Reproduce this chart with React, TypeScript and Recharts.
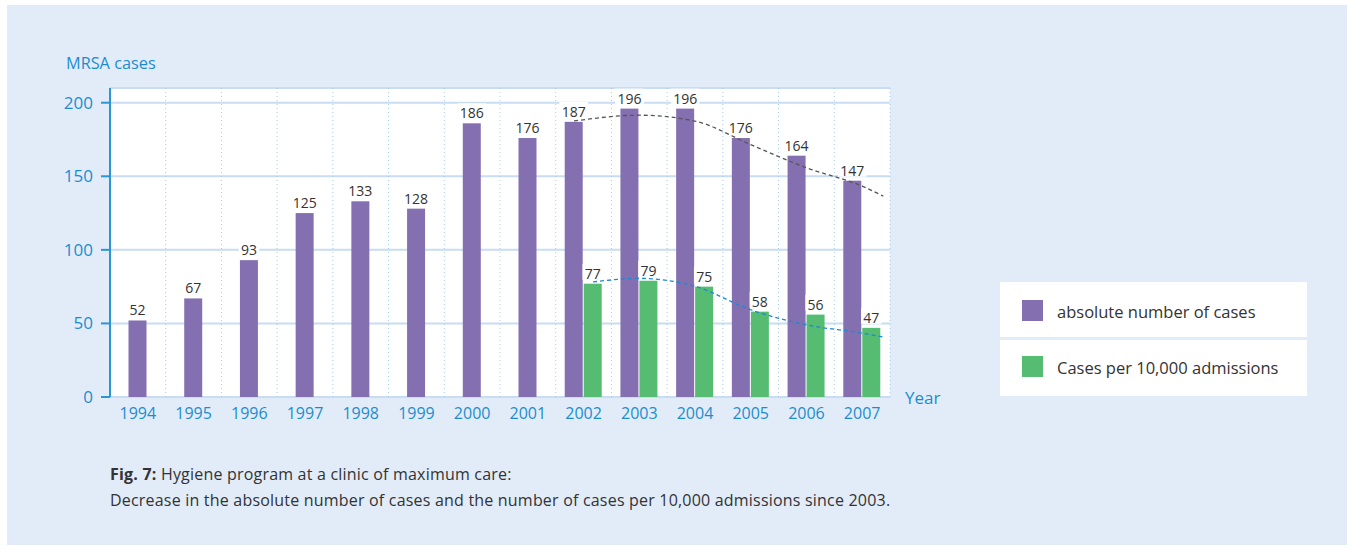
import React from "react";
import {
  ComposedChart,
  Bar,
  Line,
  XAxis,
  YAxis,
  CartesianGrid,
} from "recharts";

const years = [1994, 1995, 1996, 1997, 1998, 1999, 2000, 2001, 2002, 2003, 2004, 2005, 2006, 2007];
const absoluteCases = [52, 67, 93, 125, 133, 128, 186, 176, 187, 196, 196, 176, 164, 147];
const casesPer10k: (number | null)[] = [null, null, null, null, null, null, null, null, 77, 79, 75, 58, 56, 47];
const yTicks = [0, 50, 100, 150, 200];

// trend curves
const absTrendX = [2001.83, 2003, 2004, 2005, 2006, 2007, 2007.38];
const absTrendY = [187.6, 191.5, 187.5, 171.5, 155.8, 143.3, 136.5];
const rateTrendX = [2002.17, 2003, 2004, 2005, 2006, 2007, 2007.38];
const rateTrendY = [78.2, 80.6, 75.2, 59.3, 49, 43.4, 40.7];

const data = years.map((y, i) => ({ year: y, abs: absoluteCases[i], rate: casesPer10k[i] }));
const absTrend = absTrendX.map((x, i) => ({ year: x, v: absTrendY[i] }));
const rateTrend = rateTrendX.map((x, i) => ({ year: x, v: rateTrendY[i] }));
const boundaries = [years[0] - 0.5, ...years.map((y) => y + 0.5)];

const PURPLE = "#8470B1";
const GREEN = "#55BC72";
const BLUE = "#1C8CD0";
const AXIS = "#2B95D6";
const GRID = "#C8DDF1";
const TEXT = "#333333";
const FONT = "'Open Sans', sans-serif";
const BAR_GAP = 1;

const ValueLabel = ({ cx, top, value }: { cx: number; top: number; value: number }) => {
  const s = String(value);
  const w = s.length * 8.2 + 4;
  return (
    <g>
      <rect x={cx - w / 2} y={top - 20} width={w} height={16} fill="#ffffff" />
      <text x={cx} y={top - 5} textAnchor="middle" fontSize={14} fill={TEXT} fontFamily={FONT}>
        {s}
      </text>
    </g>
  );
};

const PurpleShape = (props: any) => {
  const { x, y, width, height, payload } = props;
  if (payload == null || payload.abs == null) return null;
  const dx = payload.rate == null ? (width + BAR_GAP) / 2 : 0;
  return (
    <g>
      <rect x={x + dx} y={y} width={width} height={height} fill={PURPLE} />
      <ValueLabel cx={x + dx + width / 2} top={y} value={payload.abs} />
    </g>
  );
};

const GreenShape = (props: any) => {
  const { x, y, width, height, payload } = props;
  if (payload == null || payload.rate == null) return null;
  return (
    <g>
      <rect x={x} y={y} width={width} height={height} fill={GREEN} />
      <ValueLabel cx={x + width / 2} top={y} value={payload.rate} />
    </g>
  );
};

export default function App() {
  return (
    <div
      style={{
        position: "absolute",
        left: 0,
        top: 0,
        width: 1354,
        height: 549,
        background: "#ffffff",
        fontFamily: FONT,
      }}
    >
      <div
        style={{
          position: "absolute",
          left: 7,
          top: 5,
          width: 1340,
          height: 540,
          background: "#E1ECF8",
        }}
      />
      <div style={{ position: "absolute", left: 66, top: 52, fontSize: 16.3, color: BLUE }}>MRSA cases</div>
      <div style={{ position: "absolute", left: 0, top: 0 }}>
        <ComposedChart
          width={960}
          height={440}
          data={data}
          margin={{ top: 88, right: 70, left: 50, bottom: 13 }}
          barGap={BAR_GAP}
        >
          <CartesianGrid vertical={false} fill="#ffffff" stroke={GRID} strokeWidth={2} />
          <XAxis
            xAxisId="num"
            dataKey="year"
            type="number"
            domain={[boundaries[0], boundaries[boundaries.length - 1]]}
            ticks={boundaries}
            tickFormatter={() => ""}
            height={0}
            allowDataOverflow
            axisLine={{ stroke: AXIS, strokeWidth: 2 }}
            tickLine={{ stroke: AXIS, strokeWidth: 2 }}
            tickSize={6}
            interval={0}
          />
          <XAxis
            xAxisId="cat"
            dataKey="year"
            type="category"
            height={30}
            axisLine={false}
            tickLine={false}
            tickSize={0}
            tickMargin={11}
            interval={0}
            tick={{ fill: BLUE, fontSize: 16, fontFamily: FONT }}
          />
          <CartesianGrid
            horizontal={false}
            xAxisId="num"
            stroke="#A8CBEA"
            strokeDasharray="1 3"
            strokeWidth={1}
          />
          <YAxis
            domain={[0, 210]}
            ticks={yTicks}
            width={60}
            interval={0}
            axisLine={{ stroke: AXIS, strokeWidth: 2 }}
            tickLine={{ stroke: AXIS, strokeWidth: 2 }}
            tickSize={9}
            tickMargin={8}
            tick={{ fill: BLUE, fontSize: 17, fontFamily: FONT }}
          />
          <Bar xAxisId="cat" dataKey="abs" barSize={18} shape={PurpleShape} isAnimationActive={false} />
          <Bar xAxisId="cat" dataKey="rate" barSize={18} shape={GreenShape} isAnimationActive={false} />
          <Line
            xAxisId="num"
            data={absTrend}
            dataKey="v"
            type="monotone"
            stroke="#555555"
            strokeWidth={1.3}
            strokeDasharray="4 3"
            dot={false}
            activeDot={false}
            isAnimationActive={false}
          />
          <Line
            xAxisId="num"
            data={rateTrend}
            dataKey="v"
            type="monotone"
            stroke="#1D88D0"
            strokeWidth={1.3}
            strokeDasharray="4 3"
            dot={false}
            activeDot={false}
            isAnimationActive={false}
          />
        </ComposedChart>
      </div>
      <div style={{ position: "absolute", left: 905, top: 386, fontSize: 17, color: BLUE }}>Year</div>

      <div
        style={{
          position: "absolute",
          left: 1000,
          top: 282,
          width: 307,
          height: 55,
          background: "#ffffff",
        }}
      >
        <div style={{ position: "absolute", left: 22, top: 18, width: 21, height: 21, background: PURPLE }} />
        <div style={{ position: "absolute", left: 57, top: 18, fontSize: 16.5, color: TEXT, whiteSpace: "nowrap" }}>
          absolute number of cases
        </div>
      </div>
      <div
        style={{
          position: "absolute",
          left: 1000,
          top: 340,
          width: 307,
          height: 56,
          background: "#ffffff",
        }}
      >
        <div style={{ position: "absolute", left: 22, top: 16, width: 21, height: 21, background: GREEN }} />
        <div style={{ position: "absolute", left: 57, top: 16, fontSize: 16.5, color: TEXT, whiteSpace: "nowrap" }}>
          Cases per 10,000 admissions
        </div>
      </div>

      <div
        style={{
          position: "absolute",
          left: 110,
          top: 463,
          fontSize: 16,
          letterSpacing: 0.2,
          color: TEXT,
          whiteSpace: "nowrap",
        }}
      >
        <b>Fig. 7:</b> Hygiene program at a clinic of maximum care:
      </div>
      <div
        style={{
          position: "absolute",
          left: 110,
          top: 489,
          fontSize: 16,
          letterSpacing: 0.2,
          color: TEXT,
          whiteSpace: "nowrap",
        }}
      >
        Decrease in the absolute number of cases and the number of cases per 10,000 admissions since 2003.
      </div>
    </div>
  );
}
